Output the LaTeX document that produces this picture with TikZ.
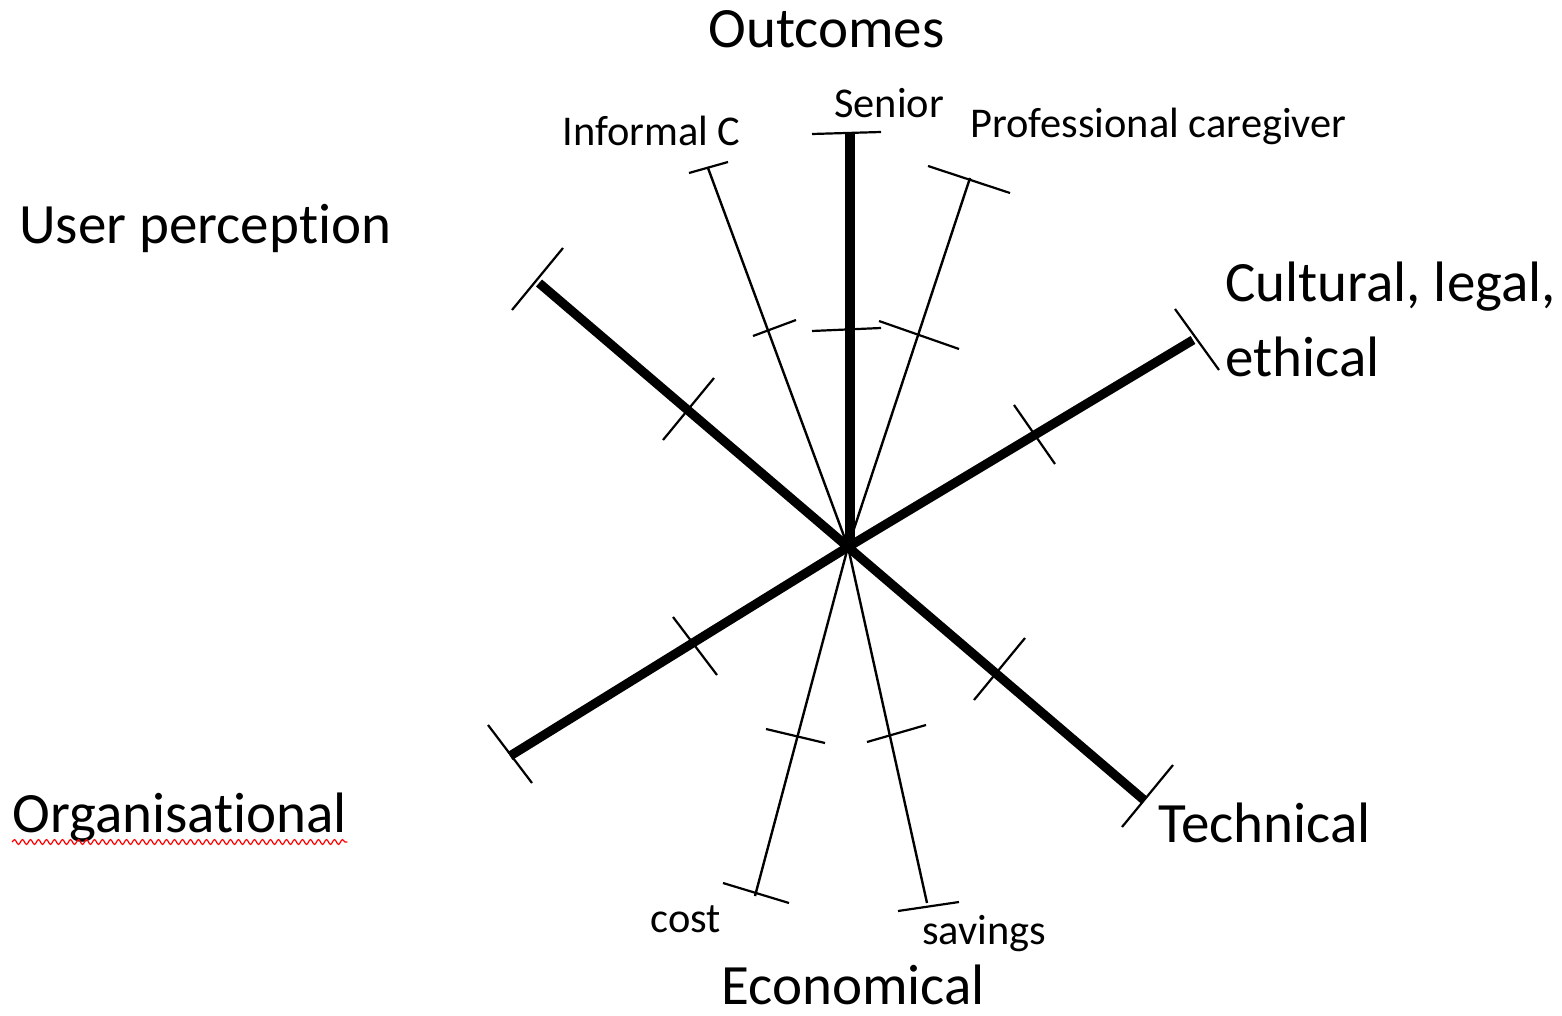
\documentclass[tikz,border=0pt]{standalone}
\usepackage{fontspec}
\setmainfont{Carlito}[Ligatures=CommonOff]
\usetikzlibrary{decorations.pathmorphing}
\begin{document}
\begin{tikzpicture}[x=0.5pt,y=-0.5pt,
  axis/.style={line width=4.6pt},
  sub/.style={line width=1.2pt},
  tickmark/.style={line width=1.1pt},
  big/.style={font=\fontsize{28.5}{34}\selectfont, inner sep=0pt, anchor=base west},
  small/.style={font=\fontsize{21.2}{25}\selectfont, inner sep=0pt, anchor=base west}]
\useasboundingbox (0,0) rectangle (1562,1016);
% centre
\coordinate (c) at (848,547);
\coordinate (cs) at (850,541);
% thick axes end points
\coordinate (senior) at (850,133);
\coordinate (user) at (539,283);
\coordinate (cult) at (1193,340);
\coordinate (org) at (510,756);
\coordinate (tech) at (1144,800);
% thin axes end points
\coordinate (inf) at (708,168);
\coordinate (prof) at (970,178);
\coordinate (cost) at (755,896);
\coordinate (sav) at (927,903);

% thick axes
\draw[axis] (cs) -- (senior);
\draw[axis] (c) -- (user);
\draw[axis] (c) -- (cult);
\draw[axis] (c) -- (org);
\draw[axis] (c) -- (tech);
% thin axes
\draw[sub] (c) -- (inf);
\draw[sub] (c) -- (prof);
\draw[sub] (c) -- (cost);
\draw[sub] (c) -- (sav);

% end caps
\draw[tickmark] (812,134) -- (881,132);
\draw[tickmark] (512,310) -- (563,248);
\draw[tickmark] (1175,309) -- (1219,370);
\draw[tickmark] (488,725) -- (532,783);
\draw[tickmark] (1173,765) -- (1122,827);
\draw[tickmark] (689,173) -- (728,162);
\draw[tickmark] (928,166) -- (1010,193);
\draw[tickmark] (723,883) -- (789,903);
\draw[tickmark] (898,911) -- (959,902);
% middle ticks
\draw[tickmark] (812,331) -- (881,328);
\draw[tickmark] (663,440) -- (714,378);
\draw[tickmark] (1014,405) -- (1055,464);
\draw[tickmark] (673,617) -- (717,675);
\draw[tickmark] (1025,638) -- (974,700);
\draw[tickmark] (753,336) -- (796,320);
\draw[tickmark] (879,321) -- (959,349);
\draw[tickmark] (766,729) -- (825,743);
\draw[tickmark] (867,742) -- (926,725);

% labels
\node[big] (outcomes) at (708,48) {Outcomes};
\node[small] (lsenior) at (834,118) {Senior};
\node[small] (linf) at (562,146) {Informal C};
\node[small] (lprof) at (970,138) {Professional caregiver};
\node[big] (luser) at (19,243) {User perception};
\node[big] (lcult) at (1225,301) {Cultural, legal,};
\node[big] (leth) at (1225,376) {ethical};
\node[big] (lorg) at (12,832) {Organisational};
\node[big] (ltech) at (1158,842) {Technical};
\node[small] (lcost) at (650,932) {cost};
\node[small] (lsav) at (922,944) {savings};
\node[big] (lecon) at (721,1004) {Economical};
% spell-check underline
\draw[red, line width=0.6pt, decorate, decoration={snake, amplitude=1.2pt, segment length=4pt}]
  ([yshift=-5pt]lorg.base west) -- ([yshift=-5pt]lorg.base east);
\end{tikzpicture}
\end{document}
